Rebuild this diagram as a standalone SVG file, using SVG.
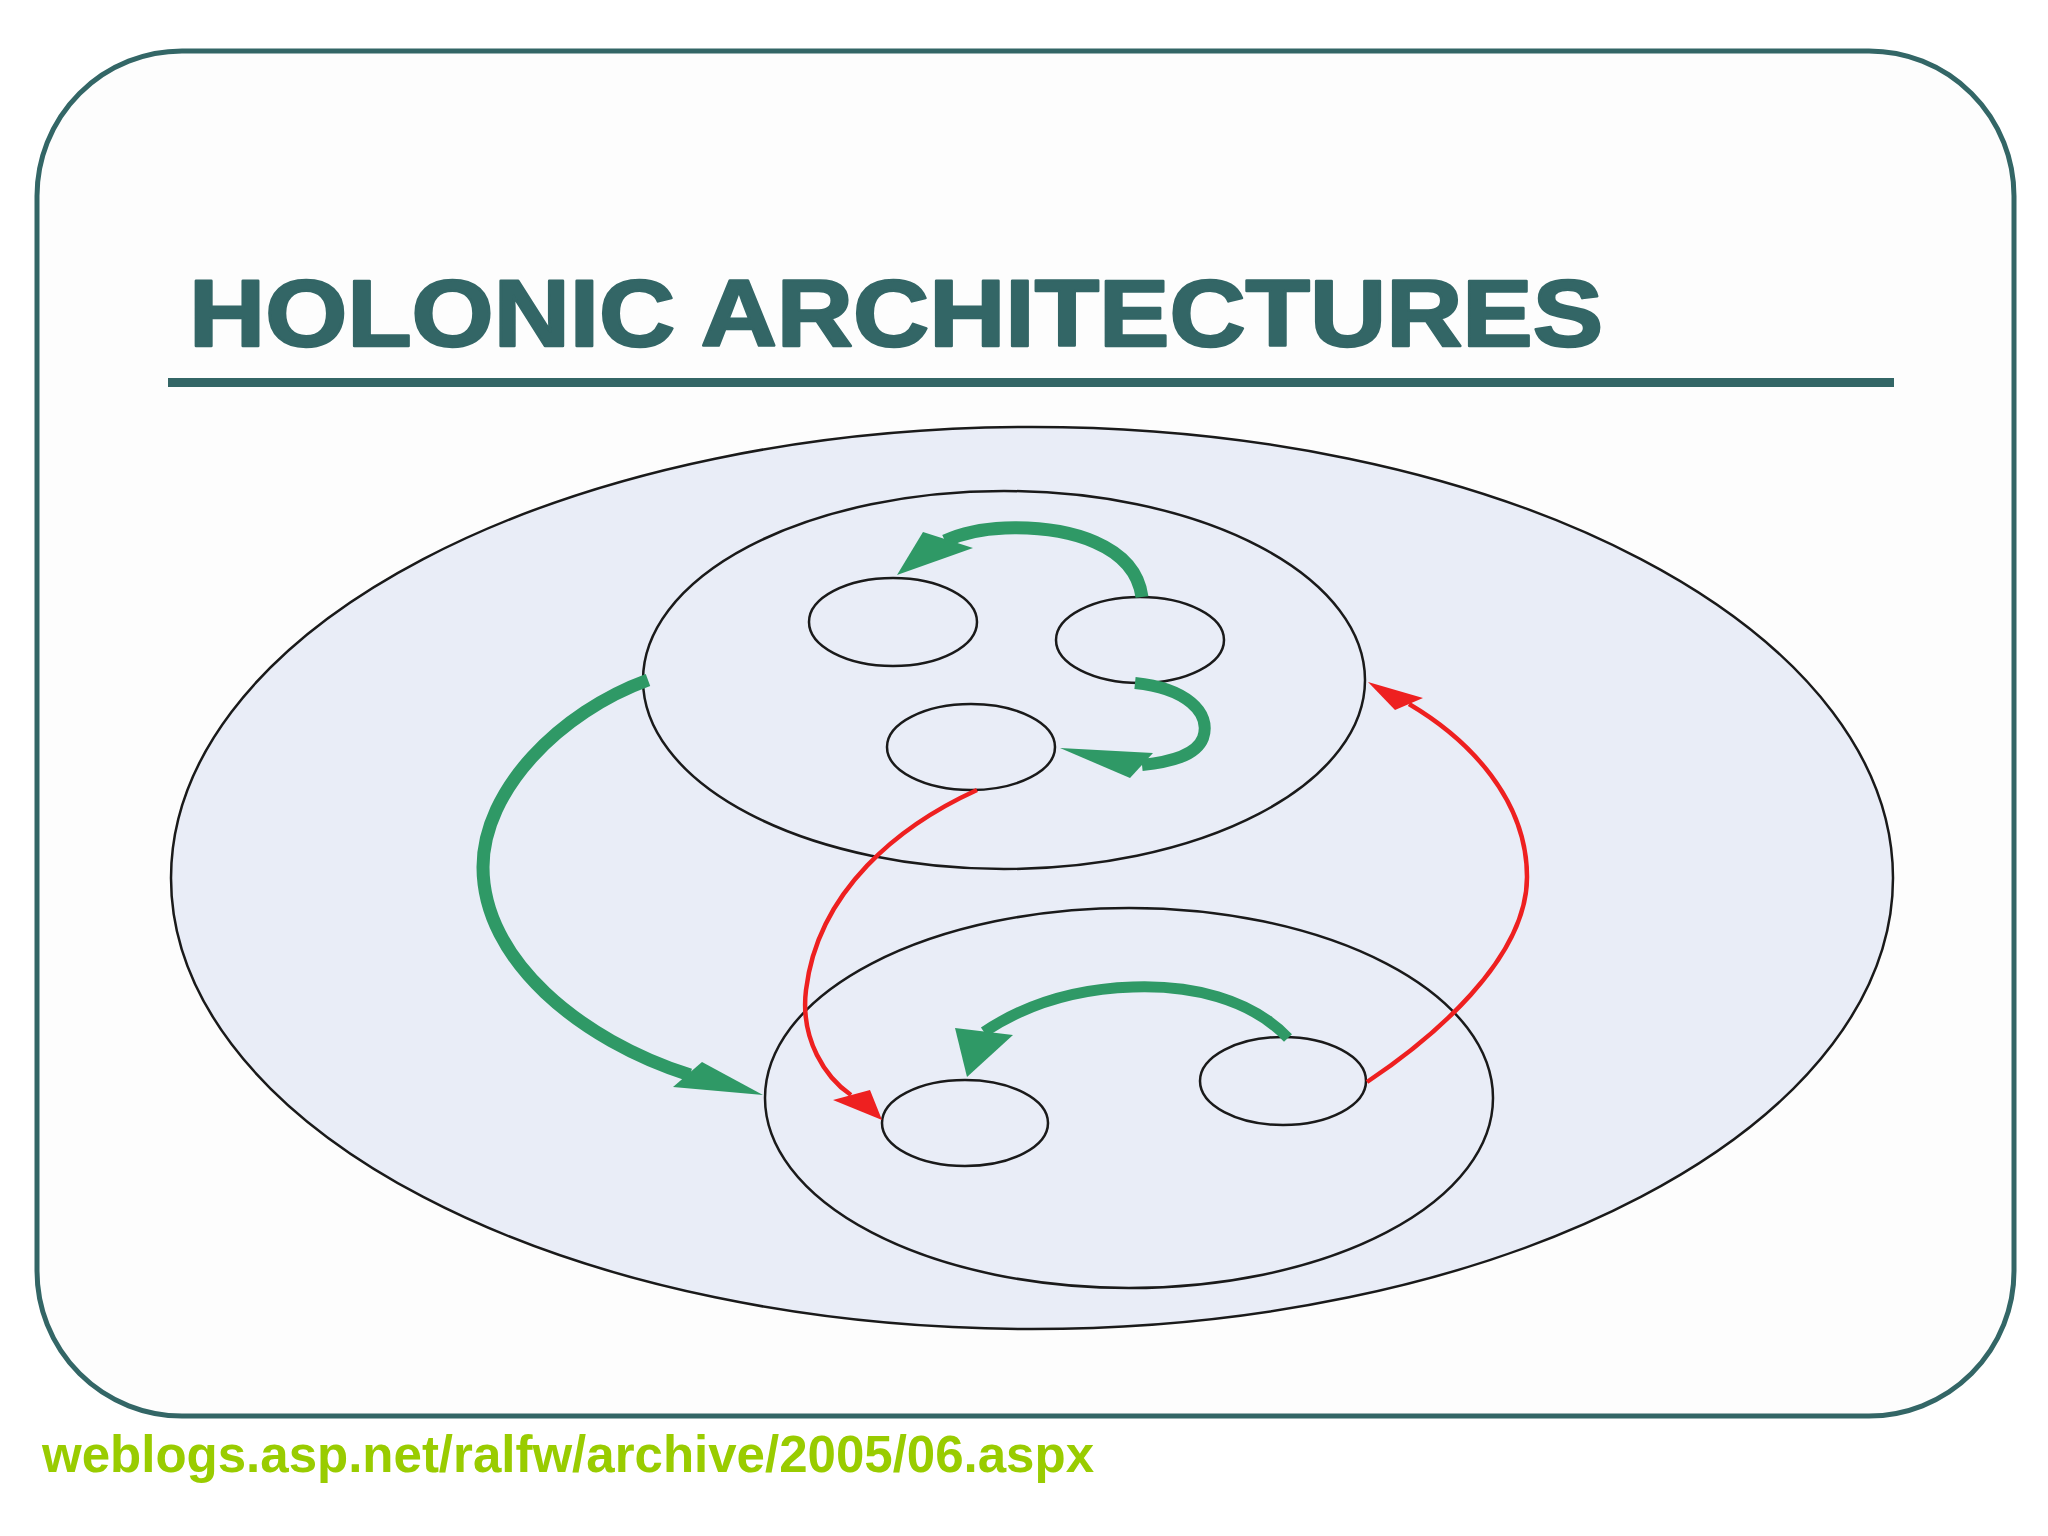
<svg xmlns="http://www.w3.org/2000/svg" width="2048" height="1536" viewBox="0 0 2048 1536">
<style>
.holon{fill:none;stroke:#1a1a1a;stroke-width:2.5}
.g{fill:none;stroke:#2f9966;stroke-linecap:butt}
.gh{fill:#2f9966}
.r{fill:none;stroke:#ee2020;stroke-width:4.5}
.rh{fill:#ee2020}
</style>
<rect width="2048" height="1536" fill="#ffffff"/>
<g id="frame">
<rect x="37" y="51" width="1977" height="1365" rx="145" ry="145" fill="#fdfdfd" stroke="#336666" stroke-width="5"/>
</g>
<g id="title">
<text x="189" y="346" font-family="Liberation Sans, Arial, sans-serif" font-weight="bold" font-size="94" fill="#336666" stroke="#336666" stroke-width="2.5" stroke-linejoin="round" textLength="1414" lengthAdjust="spacingAndGlyphs">HOLONIC ARCHITECTURES</text>
<rect x="168" y="378" width="1726" height="9" fill="#336666"/>
</g>
<g id="outer-holon">
<ellipse cx="1032" cy="878" rx="861" ry="451" fill="#e9edf7" stroke="#1a1a1a" stroke-width="2.5"/>
</g>
<g id="upper-holon">
<ellipse class="holon" cx="1004" cy="680" rx="361" ry="189"/>
</g>
<g id="lower-holon">
<ellipse class="holon" cx="1129" cy="1098" rx="364" ry="190"/>
</g>
<g id="holon-a"><ellipse class="holon" cx="893" cy="622" rx="84" ry="44"/></g>
<g id="holon-b"><ellipse class="holon" cx="1140" cy="640" rx="84" ry="43"/></g>
<g id="holon-c"><ellipse class="holon" cx="971" cy="747" rx="84" ry="43"/></g>
<g id="holon-d"><ellipse class="holon" cx="965" cy="1123" rx="83" ry="43"/></g>
<g id="holon-e"><ellipse class="holon" cx="1283" cy="1081" rx="83" ry="44"/></g>
<g id="connectors">
<path class="g" stroke-width="13" d="M1142,597 C1135,545 1070,526 1005,528 C980,529 960,534 945,541"/>
<polygon class="gh" points="897,575 923,532 973,548"/>
<path class="g" stroke-width="12" d="M1135,683 C1185,688 1212,712 1203,738 C1196,756 1170,762 1142,765"/>
<polygon class="gh" points="1060,748 1153,753 1130,778"/>
<path class="g" stroke-width="13" d="M648,680 C560,712 483,790 483,867 C483,960 580,1040 690,1075"/>
<polygon class="gh" points="673,1087 702,1062 763,1095"/>
<path class="g" stroke-width="11" d="M1288,1038 C1250,998 1190,985 1133,987 C1070,989 1020,1008 984,1032"/>
<polygon class="gh" points="955,1028 1013,1035 967,1077"/>
<path class="r" d="M977,790 C900,825 818,890 806,990 C800,1040 826,1078 851,1095"/>
<polygon class="rh" points="882,1120 833,1100 870,1090"/>
<path class="r" d="M1367,1082 C1430,1040 1527,960 1527,877 C1527,800 1470,740 1409,704"/>
<polygon class="rh" points="1368,682 1395,710 1423,698"/>
</g>
<g id="source">
<text x="42" y="1472" font-family="Liberation Sans, Arial, sans-serif" font-weight="bold" font-size="52" fill="#99cc00" textLength="1052" lengthAdjust="spacingAndGlyphs">weblogs.asp.net/ralfw/archive/2005/06.aspx</text>
</g>
</svg>
